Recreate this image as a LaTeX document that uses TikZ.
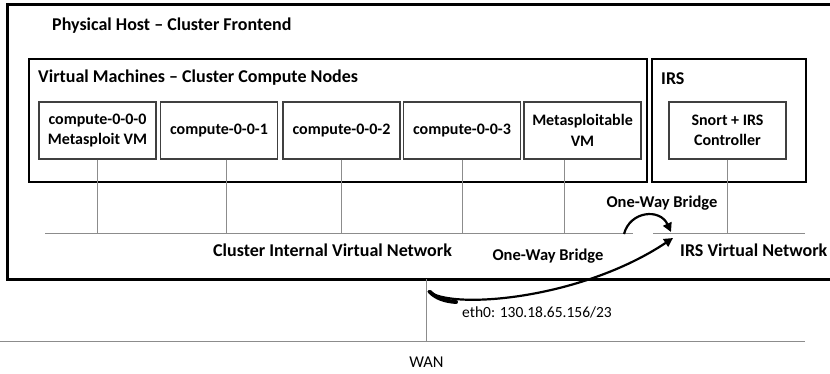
\documentclass[tikz,border=0pt]{standalone}
\usepackage{fontspec}
\setmainfont{Carlito}
\usetikzlibrary{arrows.meta}
\begin{document}
\begin{tikzpicture}[x=1pt,y=-1pt,
  vmbox/.style={draw=black!75,line width=1.1pt,fill=white,minimum width=117pt,minimum height=57pt,
    align=center,inner sep=1pt,font=\bfseries\fontsize{16}{20.5}\selectfont},
  group/.style={draw=black,line width=1.8pt},
  wire/.style={draw=black!45,line width=0.8pt},
  bridge/.style={draw=black,line width=2.2pt,-{Triangle[length=9pt,width=9pt]}},
  title/.style={font=\bfseries\fontsize{18}{20}\selectfont,anchor=west,inner sep=0pt},
  lbl/.style={font=\bfseries\fontsize{18}{20}\selectfont,inner sep=0pt},
  brlbl/.style={font=\bfseries\fontsize{16.5}{18}\selectfont,inner sep=0pt},
  plain/.style={font=\fontsize{15.5}{18}\selectfont,inner sep=0pt}]
\clip (0,0) rectangle (830,373);
\fill[white] (0,0) rectangle (830,373);

% physical host frame (open to the right)
\draw[black,line width=3pt] (850,4) -- (7,4) -- (7,279) -- (850,279);
\node[title] (host) at (52,26) {Physical Host – Cluster Frontend};

% group boxes
\draw[group] (29,59) rectangle (647,182);
\node[title] (vmtitle) at (38,78) {Virtual Machines – Cluster Compute Nodes};
\draw[group] (652,59) rectangle (806,182);
\node[title] (irstitle) at (661,79) {IRS};

% compute nodes
\node[vmbox] (c0) at (97.5,130.5) {compute-0-0-0\\Metasploit VM};
\node[vmbox] (c1) at (219,130.5) {compute-0-0-1};
\node[vmbox] (c2) at (341.5,130.5) {compute-0-0-2};
\node[vmbox] (c3) at (462,130.5) {compute-0-0-3};
\node[vmbox] (c4) at (582.5,130.5) {Metasploitable\\VM};
\node[vmbox] (snort) at (727.5,130.5) {Snort + IRS\\Controller};

% virtual networks
\coordinate (netA) at (45,233);
\coordinate (netB) at (633,233);
\coordinate (irsA) at (653,233);
\coordinate (irsB) at (805,233);
\draw[wire] (netA) -- (netB);
\draw[wire] (irsA) -- (irsB);
\draw[wire] (c0.south) -- (c0.south |- netA);
\draw[wire] ([xshift=7pt]c1.south) -- ([xshift=7pt]c1.south |- netA);
\draw[wire] (c2.south) -- (c2.south |- netA);
\draw[wire] (c3.south) -- (c3.south |- netA);
\draw[wire] ([xshift=-18.5pt]c4.south) -- ([xshift=-18.5pt]c4.south |- netA);
\draw[wire] (snort.south) -- (snort.south |- irsA);

\node[lbl,anchor=west] (cinet) at (213,250) {Cluster Internal Virtual Network};
\node[lbl,anchor=west] (irsnet) at (680,250) {IRS Virtual Network};

% bridge between the internal networks
\coordinate (brA) at (624,234);
\coordinate (brB) at (671,232);
\draw[bridge] (brA) .. controls (630,211) and (660,208) .. (brB);
\node[brlbl] (brlbl1) at (662,203) {One-Way Bridge};

% WAN uplink
\coordinate (wanA) at (0,341);
\coordinate (wanB) at (805,341);
\coordinate (eth) at (426,279);
\draw[wire] (wanA) -- (wanB);
\draw[wire] (eth) -- (eth |- wanA);
\node[plain,anchor=west] (ethlbl) at (462,312) {eth0: 130.18.65.156/23};
\node[plain,font=\fontsize{16.5}{18}\selectfont] (wan) at (426.5,362) {WAN};

% bridge from the uplink into the IRS network
\coordinate (upA) at (428,291);
\coordinate (upB) at (673,238);
\draw[bridge] (upA) .. controls (450,310) and (580,300) .. (upB);
\draw[black,line width=4pt,line cap=round] (430,292) .. controls (436,298) and (444,301) .. (456,302);
\node[brlbl] (brlbl2) at (548,256) {One-Way Bridge};
\end{tikzpicture}
\end{document}
